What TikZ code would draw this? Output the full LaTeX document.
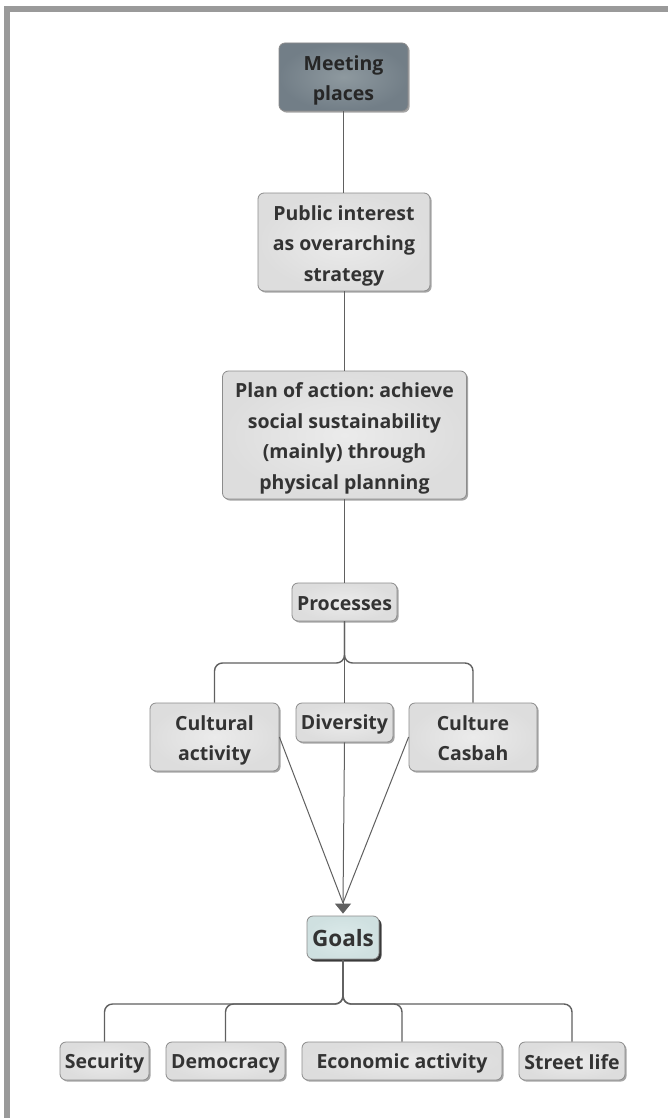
\documentclass[tikz,border=0pt]{standalone}
\usepackage{fontspec}
\setmainfont{Open Sans}
\frenchspacing
\usetikzlibrary{shadows,arrows.meta}
\definecolor{framegray}{HTML}{9A9A9A}
\definecolor{boxouter}{HTML}{DDDDDD}
\definecolor{boxinner}{HTML}{EBEBEB}
\definecolor{boxline}{HTML}{8C8C8C}
\definecolor{txt}{HTML}{333333}
\definecolor{conncol}{HTML}{606060}
\definecolor{topouter}{HTML}{727E87}
\definecolor{topinner}{HTML}{8E999F}
\definecolor{goalouter}{HTML}{CFE0E0}
\definecolor{goalinner}{HTML}{DCEAEA}
\newcommand\mystrut{\rule[-2pt]{0pt}{21pt}}
\newcommand\mltop{\rule{0pt}{22pt}}
\newcommand\mlbot{\rule[-5pt]{0pt}{5pt}}
\begin{document}
\begin{tikzpicture}[x=1pt,y=-1pt,
  box/.style={draw=boxline, line width=0.8pt, rounded corners=6pt,
    inner color=boxinner, outer color=boxouter, text=txt,
    font=\bfseries\fontsize{19.5}{30.5}\selectfont\frenchspacing, align=center, inner sep=0pt,
    execute at begin node=\mystrut, execute at end node=\mystrut,
    drop shadow={shadow xshift=1.6pt, shadow yshift=-1.6pt, fill=black, opacity=0.35}},
  topbox/.style={box, inner color=topinner, outer color=topouter, text=black!85},
  goalbox/.style={box, inner color=goalinner, outer color=goalouter, text=black!80,
    font=\bfseries\fontsize{22.5}{28}\selectfont,
    drop shadow={shadow xshift=2.5pt, shadow yshift=-2.5pt, fill=black, opacity=0.7}},
  conn/.style={draw=conncol, line width=1pt},
  tree/.style={draw=conncol, line width=1.4pt, rounded corners=8pt}]
\useasboundingbox (0,0) rectangle (668,1118);
\fill[white] (0,0) rectangle (668,1118);
\fill[framegray] (4,6) rectangle (10,1118);
\fill[framegray] (4,6) rectangle (668,12);

\node[topbox, minimum width=129pt, minimum height=68pt] (meet) at (343.5,77) {\mltop Meeting\\places\mlbot};
\node[box, minimum width=172pt, minimum height=98pt] (pub) at (344,242) {\mltop Public interest\\as overarching\\strategy\mlbot};
\node[box, minimum width=244pt, minimum height=128pt] (plan) at (344.5,435) {\mltop Plan of action: achieve\\social sustainability\\(mainly) through\\physical planning\mlbot};
\node[box, minimum width=105pt, minimum height=38pt] (proc) at (344.5,602) {Processes};
\node[box, minimum width=129pt, minimum height=68pt] (cult) at (214.5,737) {\mltop Cultural\\activity\mlbot};
\node[box, minimum width=97pt, minimum height=39pt] (div) at (344.5,722.5) {Diversity};
\node[box, minimum width=128pt, minimum height=68pt] (casbah) at (473,737) {\mltop Culture\\Casbah\mlbot};
\node[goalbox, minimum width=72pt, minimum height=43pt] (goals) at (343,937.5) {Goals};
\node[box, minimum width=89pt, minimum height=38pt] (sec) at (104.5,1061) {Security};
\node[box, minimum width=119pt, minimum height=38pt] (dem) at (225.5,1061) {Democracy};
\node[box, minimum width=200pt, minimum height=38pt] (eco) at (402,1061) {Economic activity};
\node[box, minimum width=106pt, minimum height=38pt] (street) at (572,1061) {Street life};

\draw[conn] (meet.south) -- (meet.south |- pub.north);
\draw[conn] (pub.south) -- (pub.south |- plan.north);
\draw[conn] (plan.south) -- (plan.south |- proc.north);

\draw[tree] (proc.south) |- (cult.north |- 0,663) -- (cult.north);
\draw[tree] (proc.south) |- (casbah.north |- 0,663) -- (casbah.north);
\draw[tree] (proc.south) -- (div.north);

\coordinate (conv) at (343,903);
\draw[conn] (cult.east) -- (conv);
\draw[conn] (div.south) -- (conv);
\draw[conn] (casbah.west) -- (conv);
\draw[conn, -{Triangle[length=10pt,width=16pt]}, shorten >=2pt] (conv) -- (goals.north);

\draw[tree] (goals.south) |- (sec.north |- 0,1004) -- (sec.north);
\draw[tree] (goals.south) |- (dem.north |- 0,1004) -- (dem.north);
\draw[tree] (goals.south) |- (eco.north |- 0,1004) -- (eco.north);
\draw[tree] (goals.south) |- (street.north |- 0,1004) -- (street.north);
\end{tikzpicture}
\end{document}
